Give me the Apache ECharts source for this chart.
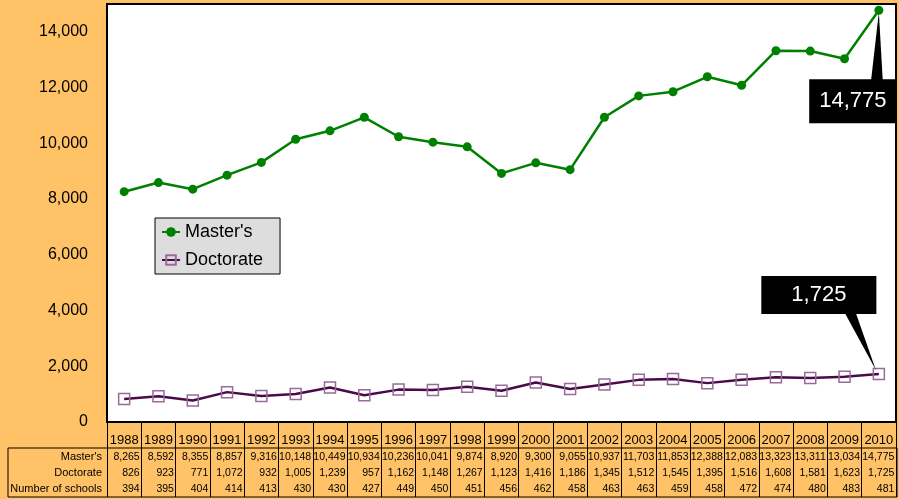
<!DOCTYPE html>
<html lang="en">
<head>
<meta charset="UTF-8">
<style>
html, body { height: 100%; margin: 0; }
#chart { width: 899px; height: 499px; }
</style>
</head>
<body>
<div id="chart"></div>
<script src="https://cdn.jsdelivr.net/npm/echarts@6/dist/echarts.min.js"></script>
<script>
var years = ['1988','1989','1990','1991','1992','1993','1994','1995','1996','1997','1998','1999',
             '2000','2001','2002','2003','2004','2005','2006','2007','2008','2009','2010'];
var masters = [8265, 8592, 8355, 8857, 9316, 10148, 10449, 10934, 10236, 10041, 9874, 8920,
               9300, 9055, 10937, 11703, 11853, 12388, 12083, 13323, 13311, 13034, 14775];
var doctorate = [826, 923, 771, 1072, 932, 1005, 1239, 957, 1162, 1148, 1267, 1123,
                 1416, 1186, 1345, 1512, 1545, 1395, 1516, 1608, 1581, 1623, 1725];
var schools = [394, 395, 404, 414, 413, 430, 430, 427, 449, 450, 451, 456,
               462, 458, 463, 463, 459, 458, 472, 474, 480, 483, 481];

var FONT = 'Liberation Sans, Arial, sans-serif';
var last = years.length - 1;
function fmt(v) { return v.toLocaleString('en-US'); }

// one table row = one extra category axis under the plot
function rowAxis(name, values, offset) {
    return {
        type: 'category', gridIndex: 0, position: 'bottom', offset: offset,
        data: years,
        name: name, nameLocation: 'start', nameGap: 5,
        nameTextStyle: { fontFamily: FONT, fontSize: 11, color: '#000', align: 'right', verticalAlign: 'middle' },
        axisLine: { show: false }, axisTick: { show: false },
        axisLabel: {
            interval: 0, margin: 0, verticalAlign: 'middle', hideOverlap: false,
            formatter: function (v, i) { return '{v|' + fmt(values[i]) + '}'; },
            rich: { v: { width: 31, align: 'right', fontFamily: FONT, fontSize: 10.5, color: '#000' } }
        }
    };
}

var myChart = echarts.init(document.getElementById('chart'));
myChart.setOption({
    backgroundColor: '#FFC266',
    animation: false,
    grid: {
        left: 107, right: 3, top: 4, bottom: 77,
        show: true, backgroundColor: '#fff', borderColor: '#000', borderWidth: 2
    },
    legend: {
        orient: 'vertical', left: 155, top: 218,
        backgroundColor: '#DDDDDD', borderColor: '#000', borderWidth: 1, borderRadius: 0,
        padding: [5, 17, 5, 6], itemGap: 10, itemWidth: 18, itemHeight: 12,
        textStyle: { fontFamily: FONT, fontSize: 18, color: '#000' },
        data: ["Master's", 'Doctorate']
    },
    xAxis: [
        {
            type: 'category', data: years, boundaryGap: true,
            axisLine: { show: false },
            axisTick: { show: true, length: 26, lineStyle: { color: '#000', width: 1 } },
            axisLabel: { interval: 0, margin: 12, fontFamily: FONT, fontSize: 13, color: '#000' }
        },
        // cell dividers of the value rows
        {
            type: 'category', gridIndex: 0, position: 'bottom', offset: 26, data: years,
            axisLine: { show: false },
            axisTick: { show: true, interval: 0, length: 49, lineStyle: { color: '#000', width: 1 } },
            axisLabel: { show: false }
        },
        rowAxis("Master's", masters, 35),
        rowAxis('Doctorate', doctorate, 51),
        rowAxis('Number of schools', schools, 67)
    ],
    yAxis: {
        type: 'value', min: 0, max: 15000, interval: 2000,
        splitLine: { show: false }, axisLine: { show: false }, axisTick: { show: false },
        axisLabel: {
            margin: 19, fontFamily: FONT, fontSize: 16, color: '#000',
            formatter: function (v) { return v > 14000 ? '' : fmt(v); }
        }
    },
    series: [
        {
            name: "Master's", type: 'line', xAxisIndex: 0,
            symbol: 'circle', symbolSize: 9,
            itemStyle: { color: '#008000' },
            lineStyle: { color: '#008000', width: 2.5 },
            data: masters.map(function (v, i) {
                if (i !== last) return v;
                return { value: v, label: {
                    show: true, position: 'inside', offset: [-26, 91],
                    formatter: fmt(v), backgroundColor: '#000', color: '#fff',
                    fontFamily: FONT, fontSize: 22, padding: [11, 10]
                } };
            })
        },
        {
            name: 'Doctorate', type: 'line', xAxisIndex: 0,
            symbol: 'rect', symbolSize: 11,
            itemStyle: { color: 'rgba(0,0,0,0)', borderColor: '#9A6A9A', borderWidth: 1.5 },
            lineStyle: { color: '#4A0A4A', width: 2.5 },
            data: doctorate.map(function (v, i) {
                if (i !== last) return v;
                return { value: v, label: {
                    show: true, position: 'inside', offset: [-60, -79],
                    formatter: fmt(v), backgroundColor: '#000', color: '#fff',
                    fontFamily: FONT, fontSize: 22, padding: [8, 30]
                } };
            })
        }
    ]
});

// table frame and callout pointers
var pM = myChart.convertToPixel({ xAxisIndex: 0, yAxisIndex: 0 }, [last, masters[last]]);
var pD = myChart.convertToPixel({ xAxisIndex: 0, yAxisIndex: 0 }, [last, doctorate[last]]);
myChart.setOption({
    graphic: [
        { type: 'rect', shape: { x: 8, y: 448, width: 889, height: 49 },
          style: { fill: 'none', stroke: '#000', lineWidth: 1 }, z: 10 },
        { type: 'polygon', z: 10,
          shape: { points: [[pM[0] - 8, pM[1] + 72], [pM[0] + 4, pM[1] + 72], [pM[0], pM[1] + 2]] },
          style: { fill: '#000' } },
        { type: 'polygon', z: 10,
          shape: { points: [[pD[0] - 34, pD[1] - 61], [pD[0] - 23, pD[1] - 61], [pD[0] - 3, pD[1] - 4]] },
          style: { fill: '#000' } }
    ]
});
</script>
</body>
</html>
